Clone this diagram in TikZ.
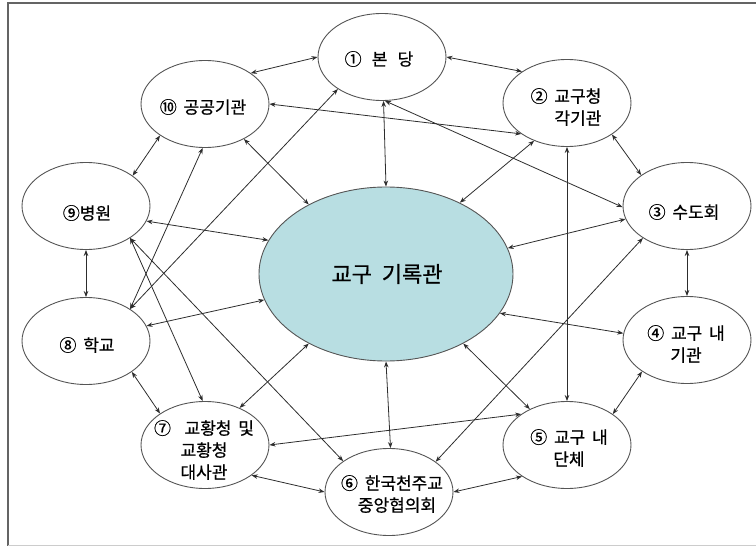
\documentclass[tikz,border=0pt]{standalone}
\usepackage{fontspec}
\setmainfont{Noto Sans CJK KR}[FakeBold=0.7]
\usetikzlibrary{shapes.geometric,arrows.meta}
\definecolor{cfill}{RGB}{184,222,226}
\definecolor{edgec}{RGB}{85,85,85}
\definecolor{connc}{RGB}{45,45,45}
\definecolor{framec}{RGB}{100,100,100}
\newcommand\gp{\hspace{0.4em}}
\begin{document}
\begin{tikzpicture}[x=1pt,y=-1pt,
  box/.style={ellipse,draw=edgec,line width=0.9pt,fill=white,minimum width=128pt,minimum height=87pt,inner sep=0pt},
  lbl/.style={font=\fontsize{17}{22}\selectfont,text=black,inner sep=0pt,align=center},
  dbl/.style={draw=connc,line width=0.8pt,{Stealth[length=6pt,width=4.5pt]}-{Stealth[length=6pt,width=4.5pt]}}]
\useasboundingbox (0,0) rectangle (756,546);
\draw[line width=2pt,draw=framec] (8,548) -- (8,2.5) -- (758,2.5);
\draw[line width=1pt,draw=black!20] (8,545) -- (758,545);
% ellipses
\node[box,fill=cfill,minimum width=254pt,minimum height=174pt] (c) at (386,274) {};
\node[box] (e1) at (382,57) {};
\node[box] (e2) at (567,103) {};
\node[box] (e3) at (687,206) {};
\node[box] (e4) at (687,340) {};
\node[box] (e5) at (567,445) {};
\node[box] (e6) at (389,492) {};
\node[box] (e7) at (205,445) {};
\node[box] (e8) at (86,341) {};
\node[box] (e9) at (86,206) {};
\node[box] (e10) at (205,104) {};
% ring
\draw[dbl] (e1.0) -- (e2.145);
\draw[dbl] (e2.-35) -- (e3.146);
\draw[dbl] (e3.south) -- (e4.north);
\draw[dbl] (e4.215) -- (e5.34);
\draw[dbl] (e5.215) -- (e6.0);
\draw[dbl] (e6.180) -- (e7.-33);
\draw[dbl] (e7.145) -- (e8.-34);
\draw[dbl] (e8.north) -- (e9.south);
\draw[dbl] (e9.33) -- (e10.215);
\draw[dbl] (e10.34) -- (e1.180);
% spokes
\draw[dbl] (c.90) -- (e1.-88);
\draw[dbl] (c.44) -- (e2.229);
\draw[dbl] (c.12.5) -- (e3.192);
\draw[dbl] (c.-19) -- (e4.174);
\draw[dbl] (c.-42) -- (e5.136);
\draw[dbl] (c.-90) -- (e6.88);
\draw[dbl] (c.222) -- (e7.47);
\draw[dbl] (c.192) -- (e8.14);
\draw[dbl] (c.164) -- (e9.-14);
\draw[dbl] (c.138) -- (e10.-42);
% cross links
\draw[dbl] (e10.0) -- (e2.214);
\draw[dbl] (e1.-86) -- (e3.181);
\draw[dbl] (e8.36) -- (e1.216);
\draw[dbl] (e8.36) -- (e10.267);
\draw[dbl] (e9.-36) -- (e7.93);
\draw[dbl] (e9.-36) -- (e6.146);
\draw[dbl] (e7.0) -- (e5.146);
\draw[dbl] (e3.216) -- (e6.33);
\draw[dbl] (e2.south) -- (e5.north);
% labels
\node[lbl] (t1) at (379,59) {①\hspace{0.6em}본\hspace{0.6em}당};
\node[lbl,align=right] (t2) at (566,107) {②\gp 교구청\\각기관};
\node[lbl] (t3) at (684,212) {③\gp 수도회};
\node[lbl] (t4) at (686,344) {④\gp 교구\gp 내\\기관};
\node[lbl] (t5) at (569,448) {⑤\gp 교구\gp 내\\단체};
\node[lbl] (t6) at (392,494) {⑥\gp 한국천주교\\\hspace*{10pt}중앙협의회};
\node[lbl] (t7) at (204,450) {⑦\gp\gp 교황청\gp 및\\교황청\\대사관};
\node[lbl] (t8) at (87,345) {⑧\gp 학교};
\node[lbl] (t9) at (87,213) {⑨병원};
\node[lbl] (t10) at (203,107) {⑩\gp 공공기관};
\node[font=\fontsize{22}{26}\selectfont,text=black,inner sep=0pt] (tc) at (387,274) {교구\hspace{0.45em}기록관};
\end{tikzpicture}
\end{document}
